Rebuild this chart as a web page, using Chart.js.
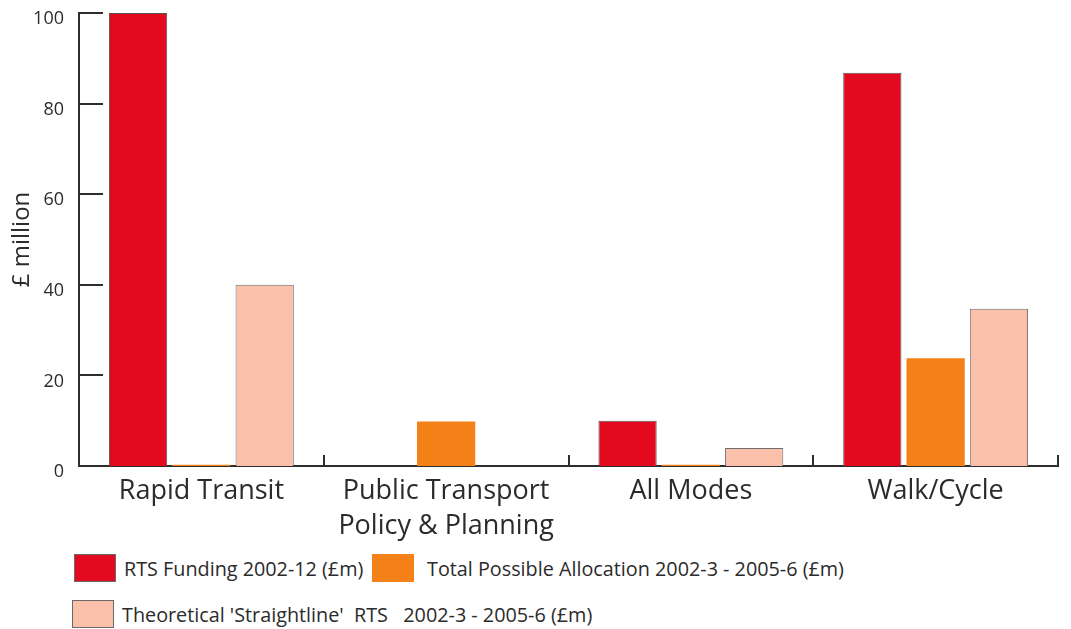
<!DOCTYPE html>
<html>
<head>
<meta charset="utf-8">
<script src="https://cdn.jsdelivr.net/npm/chart.js@4/dist/chart.umd.min.js"></script>
<style>
    body { margin: 0; background: #fff; font-family: "Open Sans", sans-serif; }
    #wrap { position: relative; width: 1071px; height: 629px; overflow: hidden; }
    #fundingChart { position: absolute; left: 0; top: 0; }
    .legend-item { position: absolute; display: flex; align-items: center; font-size: 19.8px; color: #2b2b2b; white-space: nowrap; }
    .legend-box { width: 42px; height: 28px; box-sizing: border-box; margin-right: 8px; }
</style>
</head>
<body>
<div id="wrap">
    <canvas id="fundingChart" width="1071" height="545"></canvas>
    <div id="legend"></div>
</div>
<script>
// Dados do gráfico
const categories = ['Rapid Transit', ['Public Transport', 'Policy & Planning'], 'All Modes', 'Walk/Cycle'];
const rtsFunding = [100, 0, 10, 86.8];
const possibleAllocation = [0.3, 9.8, 0.3, 23.8];
const straightline = [40, 0, 4, 34.7];
const yTicks = [0, 20, 40, 60, 80, 100];

const seriesLabels = [
    'RTS Funding 2002-12 (£m)',
    'Total Possible Allocation 2002-3 - 2005-6 (£m)',
    "Theoretical 'Straightline'  RTS   2002-3 - 2005-6 (£m)"
];
const seriesColors = ['#e30a20', '#f48117', '#fbc0aa'];
const seriesBorders = ['#555555', 'rgba(0,0,0,0)', '#6e6e6e'];

const axisColor = '#2e2e2e';
const textColor = '#2b2b2b';

// Marcas curtas para dentro nos eixos
const innerTicks = {
    id: 'innerTicks',
    afterDatasetsDraw(chart) {
        const { ctx, chartArea, scales } = chart;
        ctx.save();
        ctx.strokeStyle = axisColor;
        ctx.lineWidth = 2;
        ctx.beginPath();
        yTicks.forEach(v => {
            const y = Math.round(scales.y.getPixelForValue(v));
            ctx.moveTo(chartArea.left, y);
            ctx.lineTo(chartArea.left + 24, y);
        });
        const n = categories.length;
        for (let i = 0; i < n; i++) {
            let x;
            if (i < n - 1) {
                x = (scales.x.getPixelForTick(i) + scales.x.getPixelForTick(i + 1)) / 2;
            } else {
                x = chartArea.right;
            }
            x = Math.round(x);
            ctx.moveTo(x, chartArea.bottom);
            ctx.lineTo(x, chartArea.bottom - 11);
        }
        ctx.stroke();
        ctx.restore();
    }
};

const datasets = [rtsFunding, possibleAllocation, straightline].map((data, i) => ({
    label: seriesLabels[i],
    data: data,
    backgroundColor: seriesColors[i],
    borderColor: seriesBorders[i],
    borderWidth: i === 1 ? 0 : 1,
    barPercentage: 0.92,
    categoryPercentage: 0.776
}));

const ctx = document.getElementById('fundingChart').getContext('2d');
new Chart(ctx, {
    type: 'bar',
    data: { labels: categories, datasets: datasets },
    options: {
        responsive: false,
        animation: false,
        layout: { padding: { top: 13, right: 13, left: 0, bottom: 0 } },
        plugins: {
            legend: { display: false },
            tooltip: { enabled: false }
        },
        scales: {
            y: {
                min: 0,
                max: 100,
                afterBuildTicks(scale) {
                    scale.ticks = yTicks.map(v => ({ value: v }));
                },
                afterFit(scale) {
                    scale.width = 79;
                    scale.paddingTop = 0;
                    scale.paddingBottom = 0;
                },
                grid: { display: false, drawTicks: false },
                border: { display: true, color: axisColor, width: 2 },
                ticks: {
                    color: textColor,
                    font: { family: 'Open Sans', size: 18 },
                    padding: 15,
                    labelOffset: 6
                },
                title: {
                    display: true,
                    text: '£ million',
                    color: textColor,
                    font: { family: 'Open Sans', size: 24 },
                    padding: { top: 8, bottom: 0 }
                }
            },
            x: {
                afterFit(scale) {
                    scale.height = 79;
                    scale.paddingLeft = 0;
                    scale.paddingRight = 0;
                },
                grid: { display: false, drawTicks: false },
                border: { display: true, color: axisColor, width: 2 },
                ticks: {
                    color: textColor,
                    font: { family: 'Open Sans', size: 27, lineHeight: 1.3 },
                    padding: 8,
                    maxRotation: 0,
                    autoSkip: false
                }
            }
        }
    },
    plugins: [innerTicks]
});

// Legenda em HTML
const legendPos = [
    { left: 74, top: 554 },
    { left: 372, top: 554 },
    { left: 72, top: 600 }
];
const legendEl = document.getElementById('legend');
seriesLabels.forEach((label, i) => {
    const item = document.createElement('div');
    item.className = 'legend-item';
    item.style.left = legendPos[i].left + 'px';
    item.style.top = legendPos[i].top + 'px';
    const box = document.createElement('span');
    box.className = 'legend-box';
    box.style.background = seriesColors[i];
    box.style.border = i === 1 ? 'none' : '1.5px solid #6a6a6a';
    if (i === 1) box.style.marginRight = '13px';
    const text = document.createElement('span');
    text.textContent = label;
    text.style.whiteSpace = 'pre';
    item.appendChild(box);
    item.appendChild(text);
    legendEl.appendChild(item);
});
</script>
</body>
</html>
